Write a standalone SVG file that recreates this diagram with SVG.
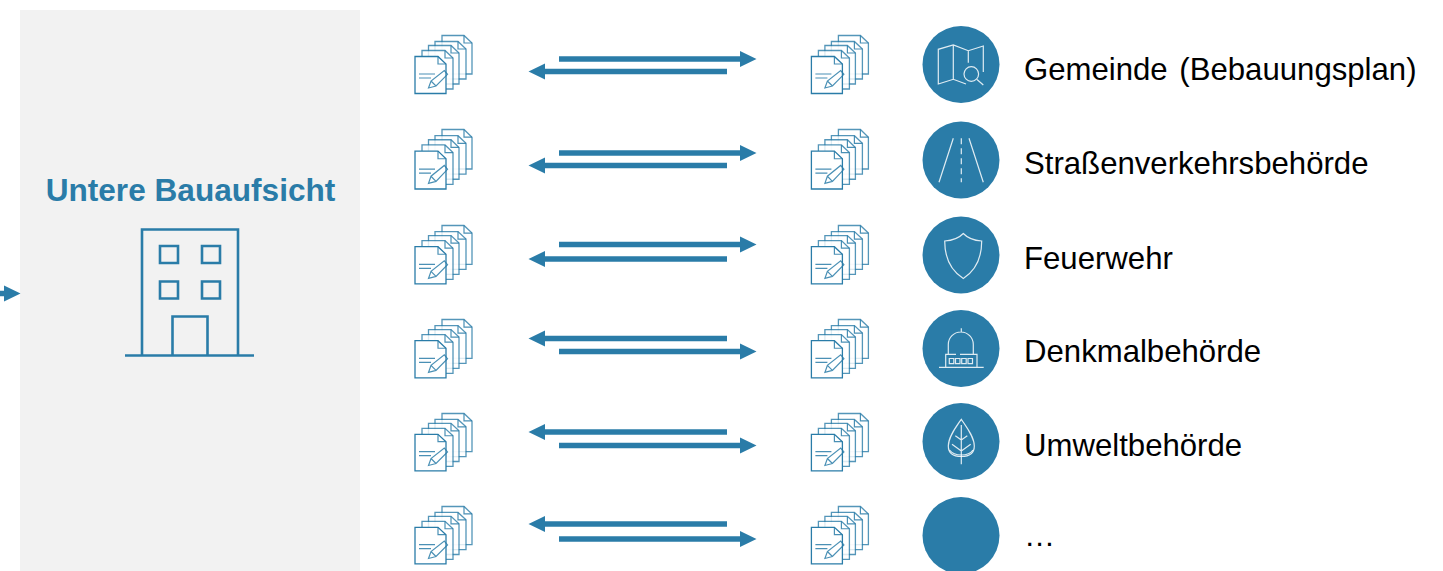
<svg xmlns="http://www.w3.org/2000/svg" width="1443" height="571" viewBox="0 0 1443 571">
<style>
text{font-family:"Liberation Sans",Arial,sans-serif;fill:#000;font-size:31.15px}
.title{font-weight:bold;font-size:31.6px;fill:#2a7ca8;text-anchor:middle}
.arrow{stroke:#2a7ca8;stroke-width:5.5;fill:none;marker-end:url(#head)}
.bl{fill:none;stroke:#2a7ca8;stroke-width:2.6}
.disc{fill:#2a7ca8}
.ic{fill:none;stroke:#fff;stroke-width:1.2;opacity:.85}
.pg{fill:#fff;stroke:#2a7ca8;stroke-width:1.3;opacity:.8}
.pn{fill:none;stroke:#2a7ca8;stroke-width:1.2;opacity:.85}
</style>
<defs>
<marker id="head" markerUnits="userSpaceOnUse" markerWidth="17" markerHeight="18" refX="0" refY="8.5" orient="auto" viewBox="0 0 17 18" overflow="visible"><path d="M0,.5 L16.5,8.5 L0,16.5 Z" fill="#2a7ca8"/></marker>
<g id="doc">
<path class="pg" d="M442,35.5H464L472,43V74H442Z"/><path class="pn" d="M464,35.5V43H472"/>
<path class="pg" d="M435,41.5H458L466,49V79H435Z"/><path class="pn" d="M458,41.5V49H466"/>
<path class="pg" d="M428.500,45.500H451L459,53V84H428.500Z"/><path class="pn" d="M451,45.500V53H459"/>
<path class="pg" d="M422,50.500H445L453,58V89H422Z"/><path class="pn" d="M445,50.500V58H453"/>
<path class="pg" style="opacity:1" d="M415,56.500H438L446,64V93.500H415Z"/><path class="pn" d="M438,56.500V64H446"/>
<path class="pn" d="M419,74H435M419,78H431"/>
<path class="pn" d="M428.500,88L431,81L444.300,70.500L447.500,74.300L436,86L428.500,88ZM431,81L436,86"/>
</g>
</defs>
<rect id="panel" x="20" y="10" width="340" height="561" fill="#f2f2f2"/>
<g id="building">
<text class="title" x="190.500" y="201">Untere Bauaufsicht</text>
<path class="bl" d="M142,355V229.500H238V355"/>
<path class="bl" d="M160,246H178V263H160ZM202,246H220V263H202ZM160,281.500H178V298.500H160ZM202,281.500H220V298.500H202Z"/>
<path class="bl" d="M172.500,355V316.500H207.500V355"/>
<path class="bl" d="M125,355.500H254"/>
</g>
<g id="connectors">
<line class="arrow" x1="0" y1="293.500" x2="4" y2="293.500"/>
<line class="arrow" x1="559" y1="59" x2="740" y2="59"/><line class="arrow" x1="727" y1="71.500" x2="545" y2="71.500"/>
<line class="arrow" x1="559" y1="153" x2="740" y2="153"/><line class="arrow" x1="727" y1="165.500" x2="545" y2="165.500"/>
<line class="arrow" x1="559" y1="244.500" x2="740" y2="244.500"/><line class="arrow" x1="727" y1="259" x2="545" y2="259"/>
<line class="arrow" x1="727" y1="338.500" x2="545" y2="338.500"/><line class="arrow" x1="559" y1="351.500" x2="740" y2="351.500"/>
<line class="arrow" x1="727" y1="432" x2="545" y2="432"/><line class="arrow" x1="559" y1="445.500" x2="740" y2="445.500"/>
<line class="arrow" x1="727" y1="524" x2="545" y2="524"/><line class="arrow" x1="559" y1="539" x2="740" y2="539"/>
</g>
<g id="docs-left">
<use href="#doc"/>
<use href="#doc" transform="translate(0,129) scale(1,1.026) translate(0,-35)"/>
<use href="#doc" transform="translate(0,225) scale(1,1.008) translate(0,-35)"/>
<use href="#doc" transform="translate(0,319) scale(1,1.008) translate(0,-35)"/>
<use href="#doc" transform="translate(0,413) scale(1,.99) translate(0,-35)"/>
<use href="#doc" transform="translate(0,506) scale(1,.99) translate(0,-35)"/>
</g>
<g id="docs-right">
<use href="#doc" transform="translate(396.400,0)"/>
<use href="#doc" transform="translate(396.400,129) scale(1,1.026) translate(0,-35)"/>
<use href="#doc" transform="translate(396.400,225) scale(1,1.008) translate(0,-35)"/>
<use href="#doc" transform="translate(396.400,319) scale(1,1.008) translate(0,-35)"/>
<use href="#doc" transform="translate(396.400,413) scale(1,.99) translate(0,-35)"/>
<use href="#doc" transform="translate(396.400,506) scale(1,.99) translate(0,-35)"/>
</g>
<g id="gemeinde">
<circle class="disc" cx="961" cy="64.500" r="38.500"/>
<path class="ic" d="M983.300,72V46L968.300,50.700L953.300,45L938.300,49.300V84L953.300,79.300L966,84M953.300,45V79.300M968.300,50.700V62.700"/>
<circle class="ic" cx="971.300" cy="74" r="7.300"/><path class="ic" d="M977,79.500L983.300,85"/>
<text x="1024" y="80" word-spacing="3">Gemeinde (Bebauungsplan)</text>
</g>
<g id="strasse">
<circle class="disc" cx="961" cy="160" r="38.500"/>
<path class="ic" d="M953.300,138.300L939,182.300M969,138.300L983.300,182.300"/>
<path class="ic" stroke-dasharray="6 4" d="M961.300,138.300V182.300"/>
<text x="1024" y="174">Straßenverkehrsbehörde</text>
</g>
<g id="feuerwehr">
<circle class="disc" cx="961" cy="255" r="38.500"/>
<path class="ic" d="M963.300,233.500C959,238 952,240.500 944.700,241C944.700,256 950,270 963.300,278.500C976.500,270 981.700,256 981.700,241C974.500,240.500 967.500,238 963.300,233.500Z"/>
<text x="1024" y="269">Feuerwehr</text>
</g>
<g id="denkmal">
<circle class="disc" cx="961" cy="348.500" r="38.500"/>
<path class="ic" d="M961.300,328.300V331.700M948.300,354V344.500A12.500,12.500 0 0 1 973.300,344.500V354M945.700,367.300V354.300H956M960,354.300H977V367.300M939,367.300H983.700"/>
<path class="ic" d="M949.300,358.500h4.500v5.200h-4.500zM955.500,358.500h4.500v5.200h-4.500zM961.700,358.500h4.500v5.200h-4.500zM968,358.500h4.500v5.200h-4.500z"/>
<text x="1024" y="362">Denkmalbehörde</text>
</g>
<g id="umwelt">
<circle class="disc" cx="961" cy="441.500" r="38.500"/>
<path class="ic" d="M961.300,419.300C956,427 948.300,437 948.300,446C948.300,453 953,456.500 961.300,456.500C969.500,456.500 974.300,453 974.300,446C974.300,437 966.500,427 961.300,419.300Z"/>
<path class="ic" d="M949.500,450C953,454.500 957,455 961.300,455C965.500,455 970,454.500 973,450"/>
<path class="ic" d="M961.300,425V464.300M955.300,435.700L961.300,440L967.300,435.700M952,444.300L961.300,451L970.700,444.300"/>
<text x="1024" y="456">Umweltbehörde</text>
</g>
<g id="weitere">
<circle class="disc" cx="961" cy="535.500" r="38.500"/>
<text x="1024" y="546">…</text>
</g>
</svg>
